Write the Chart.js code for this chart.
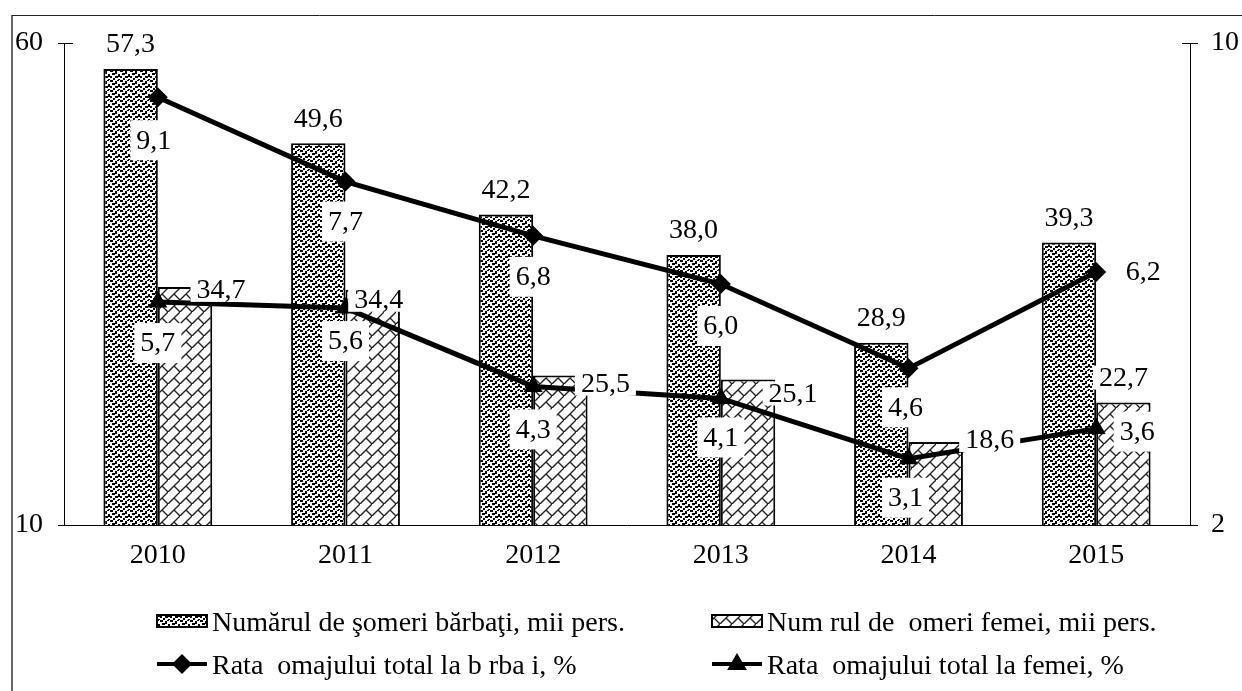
<!DOCTYPE html>
<html>
<head>
<meta charset="utf-8">
<title>Somaj</title>
<script src="https://cdn.jsdelivr.net/npm/chart.js@4.4.1/dist/chart.umd.min.js"></script>
<style>
    html, body { margin: 0; padding: 0; background: #fff; }
    #wrap { width: 1242px; height: 691px; position: relative; font-family: "Liberation Serif", "Times New Roman", serif; }
    #probe { position: absolute; left: -999px; top: 0; font-size: 28px; }
</style>
</head>
<body>
<div id="wrap"><canvas id="chart-somaj"></canvas><span id="probe">Numărul 2010</span></div>
<script>
const years = ['2010', '2011', '2012', '2013', '2014', '2015'];
const barbatiMii = [57.3, 49.6, 42.2, 38.0, 28.9, 39.3];
const femeiMii = [34.7, 34.4, 25.5, 25.1, 18.6, 22.7];
const rataBarbati = [9.1, 7.7, 6.8, 6.0, 4.6, 6.2];
const rataFemei = [5.7, 5.6, 4.3, 4.1, 3.1, 3.6];

const leftTicks = [10, 60];
const rightTicks = [2, 10];

const labels = [
    'Numărul de şomeri bărbaţi, mii pers.',
    'Num rul de  omeri femei, mii pers.',
    'Rata  omajului total la b rba i, %',
    'Rata  omajului total la femei, %'
];

// where each value label sits, relative to its bar top / point (px)
const labelShift = [
    [[0, -25], [0, -25], [0, -25], [0, -25], [0, -25], [0, -25]],
    [[36, 3], [6, 10], [45, 8], [45, 14], [54, -2], [0, -25]],
    [[-4, 43], [0, 40], [0, 41], [0, 42], [-3, 39], [47, 0]],
    [[0, 41], [0, 33], [0, 43], [0, 39], [-3, 39], [41, 3]]
];

const FONT = '"Liberation Serif", "Times New Roman", serif';
const FSIZE = 28;

function formatRo(v) {
    return v.toFixed(1).replace('.', ',');
}

// stippled fill for the male bars
function makeDotPattern() {
    const c = document.createElement('canvas');
    c.width = 10;
    c.height = 10;
    const g = c.getContext('2d');
    g.fillStyle = '#fff';
    g.fillRect(0, 0, 10, 10);
    g.fillStyle = '#000';
    [[0, 0, 3, 2], [5, 1, 2, 3], [2, 3, 3, 2], [8, 4, 2, 3], [0, 6, 2, 2], [5, 6, 3, 2], [3, 8, 2, 2], [8, 9, 2, 1], [7, 0, 2, 1]].forEach(function (d) {
        g.fillRect(d[0], d[1], d[2], d[3]);
    });
    return g.createPattern(c, 'repeat');
}

// diagonal brick fill for the female bars
function makeBrickPattern() {
    const c = document.createElement('canvas');
    c.width = 12;
    c.height = 12;
    const g = c.getContext('2d');
    g.fillStyle = '#fff';
    g.fillRect(0, 0, 12, 12);
    g.strokeStyle = '#222';
    g.lineWidth = 1.4;
    g.beginPath();
    g.moveTo(-1, 13);
    g.lineTo(13, -1);
    g.moveTo(6, 6);
    g.lineTo(12, 12);
    g.stroke();
    return g.createPattern(c, 'repeat');
}

const dotFill = makeDotPattern();
const brickFill = makeBrickPattern();

function drawMarker(ctx, style, x, y, r) {
    ctx.beginPath();
    if (style === 'rectRot') {
        ctx.moveTo(x, y - r);
        ctx.lineTo(x + r, y);
        ctx.lineTo(x, y + r);
        ctx.lineTo(x - r, y);
    } else {
        ctx.moveTo(x, y - r);
        ctx.lineTo(x + r * 0.9, y + r * 0.55);
        ctx.lineTo(x - r * 0.9, y + r * 0.55);
    }
    ctx.closePath();
    ctx.fill();
}

const framePlugin = {
    id: 'frame',
    beforeDraw(chart) {
        const ctx = chart.ctx;
        ctx.save();
        ctx.fillStyle = '#fff';
        ctx.fillRect(0, 0, chart.width, chart.height);
        ctx.strokeStyle = '#666';
        ctx.lineWidth = 2;
        ctx.beginPath();
        ctx.moveTo(12, chart.height);
        ctx.lineTo(12, 15);
        ctx.stroke();
        ctx.strokeStyle = '#222';
        ctx.lineWidth = 1;
        ctx.beginPath();
        ctx.moveTo(12, 15.5);
        ctx.lineTo(chart.width, 15.5);
        ctx.stroke();
        ctx.restore();
    }
};

const tickPlugin = {
    id: 'crossTicks',
    afterDraw(chart) {
        const ctx = chart.ctx;
        const left = chart.scales.y;
        const right = chart.scales.y1;
        ctx.save();
        ctx.strokeStyle = '#000';
        ctx.lineWidth = 1;
        ctx.beginPath();
        left.ticks.forEach(function (t) {
            const y = Math.round(left.getPixelForValue(t.value)) + 0.5;
            ctx.moveTo(left.right - 6, y);
            ctx.lineTo(left.right + 9, y);
        });
        right.ticks.forEach(function (t) {
            const y = Math.round(right.getPixelForValue(t.value)) + 0.5;
            ctx.moveTo(right.left - 8, y);
            ctx.lineTo(right.left + 8, y);
        });
        ctx.stroke();
        ctx.restore();
    }
};

const labelPlugin = {
    id: 'valueLabels',
    afterDatasetsDraw(chart) {
        const ctx = chart.ctx;
        ctx.save();
        ctx.font = FSIZE + 'px ' + FONT;
        ctx.textAlign = 'center';
        ctx.textBaseline = 'middle';
        chart.data.datasets.forEach(function (ds, i) {
            const meta = chart.getDatasetMeta(i);
            const h = ds.type === 'line' ? 40 : 24;
            meta.data.forEach(function (el, j) {
                const shift = labelShift[i][j];
                const text = formatRo(ds.data[j]);
                const x = el.x + shift[0];
                const y = el.y + shift[1];
                const w = ctx.measureText(text).width + 12;
                ctx.fillStyle = '#fff';
                ctx.fillRect(x - w / 2, y - h / 2, w, h);
                ctx.fillStyle = '#000';
                ctx.fillText(text, x, y + 1);
            });
        });
        ctx.restore();
    }
};

const legendPlugin = {
    id: 'bottomLegend',
    afterDraw(chart) {
        const ctx = chart.ctx;
        const cells = [[157, 621], [712, 621], [157, 664], [712, 664]];
        ctx.save();
        ctx.font = FSIZE + 'px ' + FONT;
        ctx.textBaseline = 'middle';
        ctx.textAlign = 'left';
        chart.data.datasets.forEach(function (ds, i) {
            const x = cells[i][0];
            const y = cells[i][1];
            if (ds.type === 'line') {
                ctx.strokeStyle = '#000';
                ctx.lineWidth = 4;
                ctx.beginPath();
                ctx.moveTo(x, y);
                ctx.lineTo(x + 50, y);
                ctx.stroke();
                ctx.fillStyle = '#000';
                drawMarker(ctx, ds.pointStyle, x + 25, y, ds.pointStyle === 'rectRot' ? 10 : 11);
            } else {
                ctx.fillStyle = ds.backgroundColor;
                ctx.fillRect(x, y - 6, 50, 12);
                ctx.strokeStyle = '#000';
                ctx.lineWidth = 2;
                ctx.strokeRect(x, y - 6, 50, 12);
            }
            ctx.fillStyle = '#000';
            ctx.fillText(ds.label, x + 55, y + 3);
        });
        ctx.restore();
    }
};

Chart.defaults.font.family = FONT;
Chart.defaults.color = '#000';

const config = {
    type: 'bar',
    data: {
        labels: years,
        datasets: [
            {
                type: 'bar',
                label: labels[0],
                data: barbatiMii,
                backgroundColor: dotFill,
                borderColor: '#000',
                borderWidth: 2,
                yAxisID: 'y',
                order: 2,
                categoryPercentage: 0.58,
                barPercentage: 1.0
            },
            {
                type: 'bar',
                label: labels[1],
                data: femeiMii,
                backgroundColor: brickFill,
                borderColor: '#000',
                borderWidth: 2,
                yAxisID: 'y',
                order: 2,
                categoryPercentage: 0.58,
                barPercentage: 1.0
            },
            {
                type: 'line',
                label: labels[2],
                data: rataBarbati,
                borderColor: '#000',
                borderWidth: 5,
                pointStyle: 'rectRot',
                pointRadius: 10,
                pointBackgroundColor: '#000',
                pointBorderWidth: 0,
                tension: 0,
                yAxisID: 'y1',
                order: 1
            },
            {
                type: 'line',
                label: labels[3],
                data: rataFemei,
                borderColor: '#000',
                borderWidth: 5,
                pointStyle: 'triangle',
                pointRadius: 11,
                pointBackgroundColor: '#000',
                pointBorderWidth: 0,
                tension: 0,
                yAxisID: 'y1',
                order: 1
            }
        ]
    },
    options: {
        responsive: true,
        maintainAspectRatio: false,
        devicePixelRatio: 1,
        animation: false,
        layout: { padding: { top: 43, left: 0, right: 0, bottom: 0 } },
        plugins: {
            legend: { display: false },
            tooltip: { enabled: false }
        },
        scales: {
            x: {
                grid: { display: false, drawTicks: false },
                border: { display: true, color: '#000', width: 1 },
                ticks: { color: '#000', font: { family: FONT, size: FSIZE }, padding: 14 },
                afterFit: function (s) { s.height = 166; }
            },
            y: {
                position: 'left',
                min: leftTicks[0],
                max: leftTicks[leftTicks.length - 1],
                grid: { display: false, drawTicks: false },
                border: { display: true, color: '#000', width: 1 },
                ticks: { color: '#000', font: { family: FONT, size: FSIZE }, padding: 21 },
                afterBuildTicks: function (s) { s.ticks = leftTicks.map(function (v) { return { value: v }; }); },
                afterFit: function (s) { s.width = 64; }
            },
            y1: {
                position: 'right',
                min: rightTicks[0],
                max: rightTicks[rightTicks.length - 1],
                grid: { display: false, drawTicks: false },
                border: { display: true, color: '#000', width: 1 },
                ticks: { color: '#000', font: { family: FONT, size: FSIZE }, padding: 21 },
                afterBuildTicks: function (s) { s.ticks = rightTicks.map(function (v) { return { value: v }; }); },
                afterFit: function (s) { s.width = 52; }
            }
        }
    },
    plugins: [framePlugin, labelPlugin, tickPlugin, legendPlugin]
};

const chart = new Chart(document.getElementById('chart-somaj'), config);

// redraw once the serif face is surely available
if (document.fonts && document.fonts.load) {
    document.fonts.load(FSIZE + 'px "Liberation Serif"').then(function () {
        chart.update();
    });
}
</script>
</body>
</html>
